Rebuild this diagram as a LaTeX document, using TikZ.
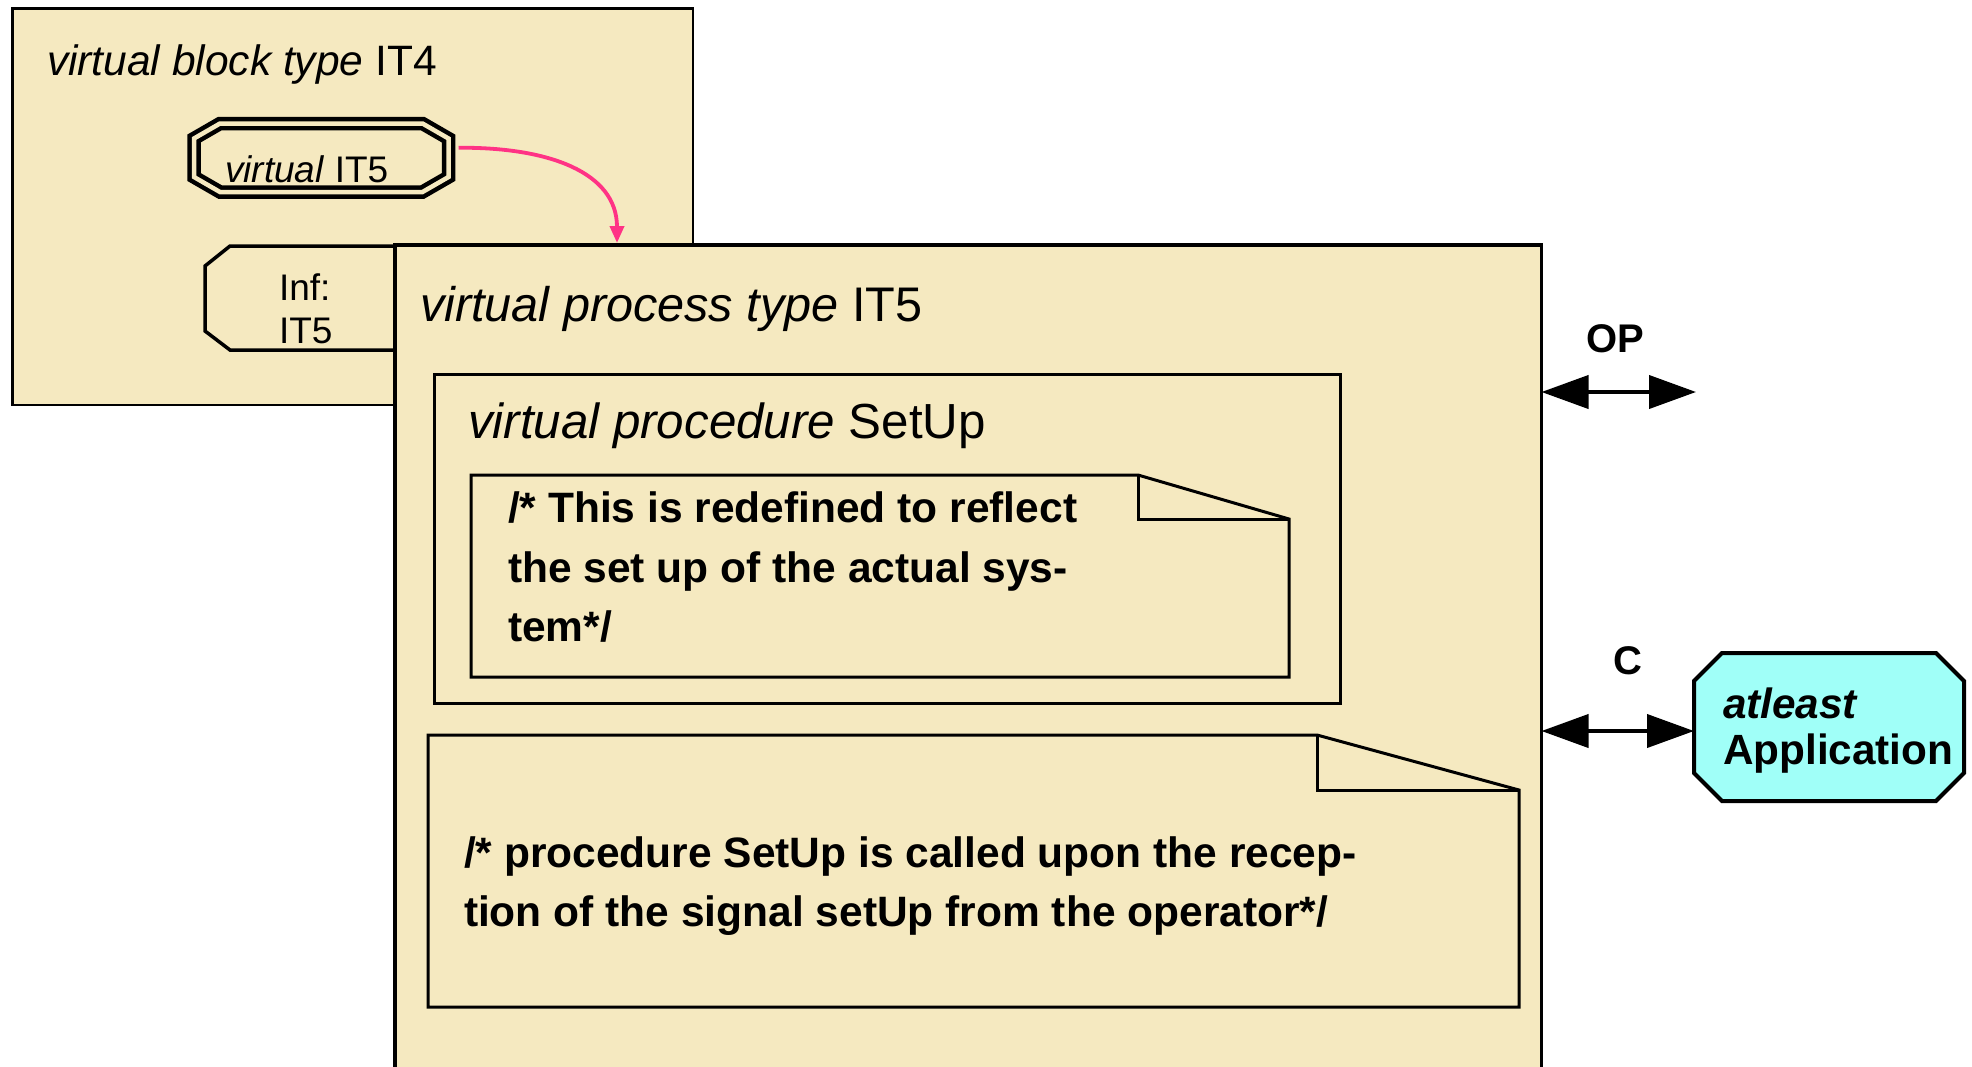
\documentclass[tikz,border=0pt]{standalone}
\usepackage{fontspec}
\setmainfont{Liberation Sans}
\usetikzlibrary{arrows.meta,calc}
\definecolor{paper}{HTML}{F5E9C0}
\definecolor{appcyan}{HTML}{A0FFF8}
\definecolor{linkpink}{HTML}{FF3385}

\tikzset{
  txt/.style={inner sep=0pt, outer sep=0pt, anchor=base west},
  frame/.style={draw=black, fill=paper, outer sep=0pt, inner sep=0pt, anchor=north west},
  ghost/.style={outer sep=0pt, inner sep=0pt, anchor=north west},
  notepath/.style={draw=black, fill=paper, line width=3pt, line join=miter},
  titlefont/.style={font=\fontsize{42.5pt}{50pt}\selectfont},
  smallfont/.style={font=\fontsize{37pt}{43pt}\selectfont},
  notefont/.style={font=\fontsize{42.5pt}{60pt}\selectfont\bfseries},
  chanfont/.style={font=\fontsize{40pt}{48pt}\selectfont\bfseries},
  channel/.style={line width=4pt,
    {Triangle[length=47pt,width=33pt]}-{Triangle[length=47pt,width=33pt]}},
}

\begin{document}
\begin{tikzpicture}[x=1pt,y=-1pt]
\useasboundingbox (0,0) rectangle (1972,1066);
\clip (0,0) rectangle (1972,1066);

% ---- block type IT4 ----
\node[frame, line width=2.5pt, minimum width=680.5pt, minimum height=396.5pt] (blk) at (12.5,8.5) {};
\node[txt, titlefont] (blktitle) at (47,75) {\textit{virtual block type} IT4};

% double-framed process instance
\node[ghost, minimum width=254.5pt, minimum height=68.5pt] (vit5) at (194,123.5) {};
\draw[line width=4.5pt, double=paper, double distance=4.5pt, fill=paper, line join=miter]
  ([xshift=26pt]vit5.north west) -- ([xshift=-26pt]vit5.north east)
  -- ([yshift=-15pt]vit5.north east) -- ([yshift=15pt]vit5.south east)
  -- ([xshift=-26pt]vit5.south east) -- ([xshift=26pt]vit5.south west)
  -- ([yshift=15pt]vit5.south west) -- ([yshift=-15pt]vit5.north west) -- cycle;
\node[txt, smallfont] (vit5txt) at (225,182) {\textit{virtual} IT5};

% gate symbol Inf: IT5 (right part lies under the process type)
\draw[notepath, line width=3.5pt]
  (520,246) -- (230,246) -- (205,266) -- (205,331) -- (230,350) -- (520,350);
\node[txt, smallfont] (inf1) at (279,300) {Inf:};
\node[txt, smallfont] (inf2) at (279,343) {IT5};

% link from the instance to its type
\coordinate (typetop) at (617,243);
\draw[linkpink, line width=3.8pt, -{Triangle[length=17pt,width=14pt]}]
  ([xshift=10pt,yshift=10pt]vit5.east) .. controls (548,147) and (617,172) .. (typetop);

% ---- process type IT5 ----
\node[frame, line width=3.5pt, minimum width=1146.5pt, minimum height=840pt] (proc) at (395,245) {};
\node[txt, font=\fontsize{48.6pt}{56pt}\selectfont] (proctitle) at (420,321) {\textit{virtual process type} IT5};

% procedure SetUp
\node[frame, line width=3pt, minimum width=906pt, minimum height=329pt] (prc) at (434,374) {};
\node[txt, font=\fontsize{49.3pt}{56pt}\selectfont] (prctitle) at (468,438) {\textit{virtual procedure} SetUp};

% comment inside the procedure
\draw[notepath] (471,475) -- (1138,475) -- (1289,519) -- (1289,677) -- (471,677) -- cycle;
\draw[line width=3pt] (1138,475) -- (1138,519) -- (1289,519);
\node[txt, notefont] (c1a) at (508,522) {/* This is redefined to reflect};
\node[txt, notefont] (c1b) at (508,582) {the set up of the actual sys-};
\node[txt, notefont] (c1c) at (508,641.5) {tem*/};

% comment in the process type
\draw[notepath] (428,735) -- (1317,735) -- (1519,790) -- (1519,1007) -- (428,1007) -- cycle;
\draw[line width=3pt] (1317,735) -- (1317,790) -- (1519,790);
\node[txt, notefont] (c2a) at (464,867) {/* procedure SetUp is called upon the recep-};
\node[txt, notefont] (c2b) at (464,926) {tion of the signal setUp from the operator*/};

% ---- environment ----
\node[ghost, minimum width=270pt, minimum height=148pt] (app) at (1694,653) {};
\draw[draw=black, fill=appcyan, line width=4pt, line join=miter]
  ([xshift=28pt]app.north west) -- ([xshift=-28pt]app.north east)
  -- ([yshift=-28pt]app.north east) -- ([yshift=28pt]app.south east)
  -- ([xshift=-28pt]app.south east) -- ([xshift=28pt]app.south west)
  -- ([yshift=28pt]app.south west) -- ([yshift=-28pt]app.north west) -- cycle;
\node[txt, font=\fontsize{42.3pt}{50pt}\selectfont\bfseries] (app1) at (1723,718.5) {\textit{atleast}};
\node[txt, font=\fontsize{42.3pt}{50pt}\selectfont\bfseries] (app2) at (1723,764.5) {Application};

% channels
\coordinate (opend) at (1696,392);
\draw[channel] (proc.east |- opend) -- (opend);
\node[chanfont, inner sep=0pt, anchor=base] (oplbl) at (1615,352) {OP};

\coordinate (cport) at ([yshift=-4pt]app.west);
\draw[channel] (proc.east |- cport) -- (cport);
\node[chanfont, inner sep=0pt, anchor=base] (clbl) at (1628,674) {C};

\end{tikzpicture}
\end{document}
